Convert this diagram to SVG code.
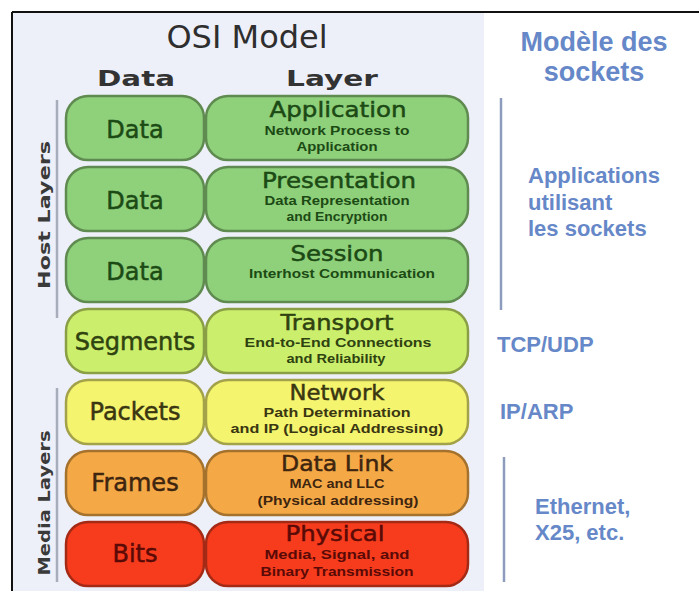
<svg xmlns="http://www.w3.org/2000/svg" width="699" height="591" viewBox="0 0 699 591">
<style>
.title{font-family:"DejaVu Sans",sans-serif;font-size:32px;fill:#2e2e2e;text-anchor:middle}
.hdr{font-family:"DejaVu Sans",sans-serif;font-weight:bold;font-size:21px;fill:#333;text-anchor:middle}
.side{font-family:"DejaVu Sans",sans-serif;font-weight:bold;font-size:15px;fill:#3a3a3a;text-anchor:middle}
.dl{font-family:"DejaVu Sans",sans-serif;font-size:24px;text-anchor:middle;stroke-width:0.5}
.lt{font-family:"DejaVu Sans",sans-serif;font-size:22px;text-anchor:middle;stroke-width:0.5}
.ls{font-family:"Liberation Sans",Arial,sans-serif;font-weight:bold;font-size:12.5px;text-anchor:middle}
.blue{font-family:"Liberation Sans",Arial,sans-serif;font-weight:bold;fill:#6688c8}
.g rect{fill:#8fd07b;stroke:#5f8a50}
.g text{fill:#1c4a14}
.g .dl,.g .lt{stroke:#1c4a14}
.tr rect{fill:#cbef6c;stroke:#8a9e45}
.tr text{fill:#2f4210}
.tr .dl,.tr .lt{stroke:#2f4210}
.nw rect{fill:#f4f46e;stroke:#a3a24a}
.nw text{fill:#3a3612}
.nw .dl,.nw .lt{stroke:#3a3612}
.dk rect{fill:#f5a946;stroke:#a5722e}
.dk text{fill:#3e2510}
.dk .dl,.dk .lt{stroke:#3e2510}
.ph rect{fill:#f63c1d;stroke:#a52a16}
.ph text{fill:#5a0a06}
.ph .dl,.ph .lt{stroke:#5a0a06}
rect{stroke-width:2.5}
.vl{stroke:#a7adbb;stroke-width:2.5}
.bl{stroke:#8d9cbd;stroke-width:2.5}
</style>
<rect x="0" y="0" width="699" height="591" fill="#ffffff"/>
<rect x="12" y="12" width="472" height="579" fill="#eef0f9" stroke="none"/>
<line x1="12" y1="12" x2="699" y2="12" stroke="#111" stroke-width="2"/>
<line x1="12" y1="12" x2="12" y2="591" stroke="#111" stroke-width="2"/>

<g id="header">
<text class="title" x="247" y="48">OSI Model</text>
<text class="hdr" x="136" y="86" textLength="78" lengthAdjust="spacingAndGlyphs">Data</text>
<text class="hdr" x="332" y="86" textLength="92" lengthAdjust="spacingAndGlyphs">Layer</text>
</g>

<g id="side-labels">
<line class="vl" x1="57" y1="100" x2="57" y2="318"/>
<text class="side" transform="translate(50,215) rotate(-90)" textLength="148" lengthAdjust="spacingAndGlyphs">Host Layers</text>
<line class="vl" x1="57" y1="388" x2="57" y2="582"/>
<text class="side" transform="translate(50,503) rotate(-90)" textLength="145" lengthAdjust="spacingAndGlyphs">Media Layers</text>
</g>

<g id="application" class="g">
<rect x="66" y="96" width="138" height="64" rx="22"/>
<text class="dl" x="135" y="138">Data</text>
<rect x="206" y="96" width="262" height="64" rx="22"/>
<text class="lt" x="338" y="117" textLength="137" lengthAdjust="spacingAndGlyphs">Application</text>
<text class="ls" x="337" y="135" textLength="145" lengthAdjust="spacingAndGlyphs">Network Process to</text>
<text class="ls" x="337" y="151" textLength="81" lengthAdjust="spacingAndGlyphs">Application</text>
</g>

<g id="presentation" class="g">
<rect x="66" y="167" width="138" height="64" rx="22"/>
<text class="dl" x="135" y="209">Data</text>
<rect x="206" y="167" width="262" height="64" rx="22"/>
<text class="lt" x="339" y="188" textLength="154" lengthAdjust="spacingAndGlyphs">Presentation</text>
<text class="ls" x="337" y="205" textLength="145" lengthAdjust="spacingAndGlyphs">Data Representation</text>
<text class="ls" x="337" y="221" textLength="101" lengthAdjust="spacingAndGlyphs">and Encryption</text>
</g>

<g id="session" class="g">
<rect x="66" y="238" width="138" height="64" rx="22"/>
<text class="dl" x="135" y="280">Data</text>
<rect x="206" y="238" width="262" height="64" rx="22"/>
<text class="lt" x="337" y="261" textLength="93" lengthAdjust="spacingAndGlyphs">Session</text>
<text class="ls" x="342" y="278" textLength="186" lengthAdjust="spacingAndGlyphs">Interhost Communication</text>
</g>

<g id="transport" class="tr">
<rect x="66" y="309" width="138" height="64" rx="22"/>
<text class="dl" x="135" y="350">Segments</text>
<rect x="206" y="309" width="262" height="64" rx="22"/>
<text class="lt" x="337" y="330" textLength="113" lengthAdjust="spacingAndGlyphs">Transport</text>
<text class="ls" x="338" y="347" textLength="187" lengthAdjust="spacingAndGlyphs">End-to-End Connections</text>
<text class="ls" x="336" y="363" textLength="99" lengthAdjust="spacingAndGlyphs">and Reliability</text>
</g>

<g id="network" class="nw">
<rect x="66" y="380" width="138" height="64" rx="22"/>
<text class="dl" x="135" y="420">Packets</text>
<rect x="206" y="380" width="262" height="64" rx="22"/>
<text class="lt" x="337" y="400" textLength="95" lengthAdjust="spacingAndGlyphs">Network</text>
<text class="ls" x="337" y="417" textLength="147" lengthAdjust="spacingAndGlyphs">Path Determination</text>
<text class="ls" x="337" y="433" textLength="213" lengthAdjust="spacingAndGlyphs">and IP (Logical Addressing)</text>
</g>

<g id="datalink" class="dk">
<rect x="66" y="451" width="138" height="64" rx="22"/>
<text class="dl" x="135" y="491">Frames</text>
<rect x="206" y="451" width="262" height="64" rx="22"/>
<text class="lt" x="337" y="471" textLength="112" lengthAdjust="spacingAndGlyphs">Data Link</text>
<text class="ls" x="337" y="488" textLength="95" lengthAdjust="spacingAndGlyphs">MAC and LLC</text>
<text class="ls" x="338" y="505" textLength="161" lengthAdjust="spacingAndGlyphs">(Physical addressing)</text>
</g>

<g id="physical" class="ph">
<rect x="66" y="522" width="138" height="64" rx="22"/>
<text class="dl" x="135" y="562">Bits</text>
<rect x="206" y="522" width="262" height="64" rx="22"/>
<text class="lt" x="335" y="541" textLength="99" lengthAdjust="spacingAndGlyphs">Physical</text>
<text class="ls" x="337" y="559" textLength="145" lengthAdjust="spacingAndGlyphs">Media, Signal, and</text>
<text class="ls" x="337" y="576" textLength="153" lengthAdjust="spacingAndGlyphs">Binary Transmission</text>
</g>

<g id="sockets">
<text class="blue" x="594" y="51" font-size="27" text-anchor="middle">Modèle des</text>
<text class="blue" x="594" y="81" font-size="27" text-anchor="middle">sockets</text>
<line class="bl" x1="501" y1="98" x2="501" y2="310"/>
<text class="blue" x="528" y="183" font-size="22">Applications</text>
<text class="blue" x="528" y="210" font-size="22">utilisant</text>
<text class="blue" x="528" y="236" font-size="22">les sockets</text>
<text class="blue" x="497" y="352" font-size="22">TCP/UDP</text>
<text class="blue" x="500" y="419" font-size="22">IP/ARP</text>
<line class="bl" x1="504" y1="457" x2="504" y2="582"/>
<text class="blue" x="535" y="514" font-size="22">Ethernet,</text>
<text class="blue" x="535" y="540" font-size="22">X25, etc.</text>
</g>
</svg>
